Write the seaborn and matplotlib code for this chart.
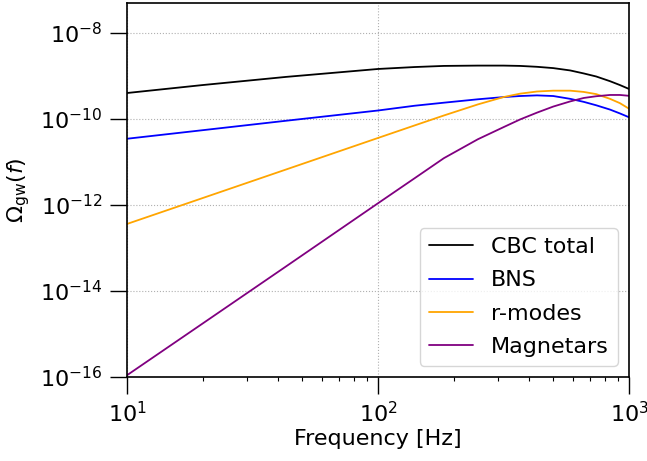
import matplotlib
matplotlib.use("Agg")
import matplotlib.pyplot as plt
from matplotlib.ticker import NullLocator
import seaborn as sns
import pandas as pd

freq = [10, 20, 43, 100, 140, 183, 250, 316, 368, 430, 499, 583, 660, 740, 840, 920, 1000]

cbc_total = [4.03e-10, 6.17e-10, 9.55e-10, 1.46e-9, 1.62e-9, 1.72e-9, 1.75e-9, 1.75e-9, 1.72e-9,
             1.64e-9, 1.53e-9, 1.35e-9, 1.15e-9, 9.77e-10, 7.59e-10, 6.17e-10, 5.01e-10]
bns = [3.48e-11, 5.50e-11, 9.12e-11, 1.58e-10, 2.04e-10, 2.40e-10, 2.88e-10, 3.24e-10, 3.43e-10,
       3.55e-10, 3.43e-10, 2.95e-10, 2.51e-10, 2.09e-10, 1.66e-10, 1.35e-10, 1.10e-10]
r_modes = [3.63e-13, 1.45e-12, 6.70e-12, 3.63e-11, 7.11e-11, 1.21e-10, 2.19e-10, 3.24e-10, 3.89e-10,
           4.37e-10, 4.57e-10, 4.57e-10, 4.27e-10, 3.80e-10, 2.95e-10, 2.34e-10, 1.74e-10]
magnetars = [1.10e-16, 1.75e-15, 3.73e-14, 1.10e-12, 4.21e-12, 1.23e-11, 3.39e-11, 6.46e-11, 9.77e-11,
             1.41e-10, 1.95e-10, 2.57e-10, 3.09e-10, 3.39e-10, 3.63e-10, 3.63e-10, 3.47e-10]

labels = ["CBC total", "BNS", "r-modes", "Magnetars"]
colors = ["black", "blue", "orange", "purple"]

# long-form table for seaborn
frames = []
for name, vals in zip(labels, [cbc_total, bns, r_modes, magnetars]):
    frames.append(pd.DataFrame({"freq": freq, "omega": vals, "source": name}))
df = pd.concat(frames, ignore_index=True)

sns.set_style("ticks", {"text.color": "black", "axes.labelcolor": "black",
                        "xtick.color": "black", "ytick.color": "black",
                        "axes.edgecolor": "black"})
plt.rcParams['font.family'] = ['DejaVu Sans']

fig = plt.figure(figsize=(6.47, 4.61), dpi=100)
ax = fig.add_axes([0.1963, 0.1822, 0.7759, 0.8113])

sns.lineplot(data=df, x="freq", y="omega", hue="source", hue_order=labels,
             palette=dict(zip(labels, colors)), estimator=None, sort=False,
             linewidth=1.3, ax=ax)

ax.set_xscale("log")
ax.set_yscale("log")
ax.set_xlim(10, 1000)
ax.set_ylim(1e-16, 5e-8)
ax.set_yticks([1e-16, 1e-14, 1e-12, 1e-10, 1e-8])
ax.yaxis.set_minor_locator(NullLocator())

ax.grid(True, which="major", linestyle=":", color="#b0b0b0", linewidth=0.8)
ax.tick_params(which="major", length=12.5, width=1.0, labelsize=16, pad=5, color="black")
ax.tick_params(which="minor", length=3, width=0.8, color="black")
for sp in ax.spines.values():
    sp.set_linewidth(1.2)
    sp.set_color("black")

ax.set_xlabel("Frequency [Hz]", fontsize=16, labelpad=2)
ax.set_ylabel(r"$\Omega_{\rm gw}(f)$", fontsize=16, labelpad=6)

handles, labs = ax.get_legend_handles_labels()
ax.legend(handles, labs, loc="lower right", fontsize=16, labelspacing=0.6,
          frameon=True, framealpha=0.8, edgecolor="#cccccc")

fig.savefig("out.png", dpi=100)
